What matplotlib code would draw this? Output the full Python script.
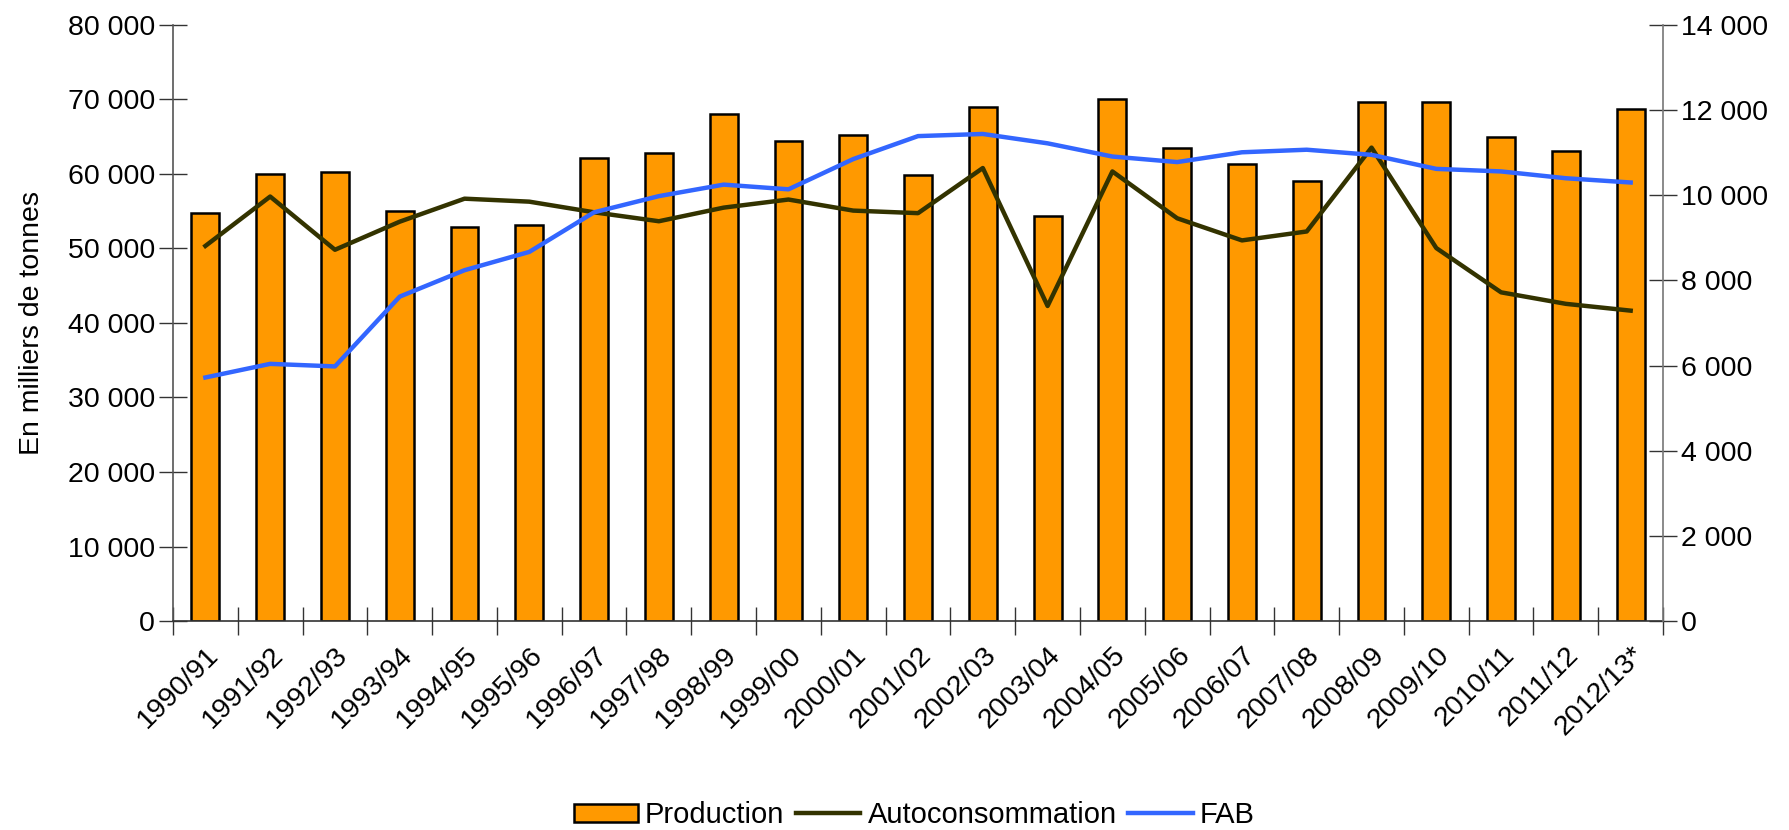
import matplotlib
matplotlib.use("Agg")
import matplotlib.pyplot as plt
from matplotlib.patches import Patch
from matplotlib.lines import Line2D
from matplotlib.ticker import FuncFormatter, MultipleLocator
import numpy as np

plt.rcParams['font.family'] = ['Liberation Sans', 'DejaVu Sans']

campagnes = ["1990/91", "1991/92", "1992/93", "1993/94", "1994/95", "1995/96",
             "1996/97", "1997/98", "1998/99", "1999/00", "2000/01", "2001/02",
             "2002/03", "2003/04", "2004/05", "2005/06", "2006/07", "2007/08",
             "2008/09", "2009/10", "2010/11", "2011/12", "2012/13*"]

production = [54700, 60000, 60300, 55000, 52900, 53200, 62200, 62800, 68000,
              64400, 65300, 59800, 69000, 54400, 70000, 63450, 61300, 59100,
              69700, 69700, 65000, 63100, 68700]

autoconsommation = [8810, 9970, 8720, 9380, 9920, 9850, 9600, 9390, 9710,
                    9900, 9640, 9580, 10640, 7400, 10560, 9460, 8940, 9150,
                    11120, 8760, 7720, 7450, 7290]

fab = [5720, 6040, 5980, 7620, 8240, 8670, 9600, 9980, 10250, 10140, 10850,
       11390, 11440, 11220, 10910, 10780, 11010, 11070, 10950, 10620, 10560,
       10400, 10300]

C_BAR = "#FF9900"
C_AUTO = "#333300"
C_FAB = "#3366FF"
FS = 20.5

def fmt(v, pos):
    return "{:,.0f}".format(v).replace(",", " ")

fig = plt.figure(figsize=(17.89, 8.30), dpi=100)
ax = fig.add_axes([0.0967, 0.2518, 0.8329, 0.7181])
ax2 = ax.twinx()

x = np.arange(len(campagnes))
ax.bar(x, production, width=0.43, color=C_BAR, edgecolor="black", linewidth=1.8, zorder=2)
ax2.plot(x, autoconsommation, color=C_AUTO, linewidth=3.2, zorder=3)
ax2.plot(x, fab, color=C_FAB, linewidth=3.2, zorder=3)

ax.set_xlim(-0.5, len(campagnes) - 0.5)
ax.set_ylim(0, 80000)
ax2.set_ylim(0, 14000)
ax.yaxis.set_major_locator(MultipleLocator(10000))
ax2.yaxis.set_major_locator(MultipleLocator(2000))
ax.yaxis.set_major_formatter(FuncFormatter(fmt))
ax2.yaxis.set_major_formatter(FuncFormatter(fmt))

ax.set_xticks(x)
ax.set_xticklabels(campagnes, rotation=45, ha="right", va="top", rotation_mode="anchor")
ax.set_xticks(np.arange(-0.5, len(campagnes)), minor=True)
ax.tick_params(axis="x", which="major", length=0, pad=15, labelsize=FS)
ax.tick_params(axis="x", which="minor", length=20, direction="inout", width=1, color="#333333")
ax.tick_params(axis="y", length=20, direction="inout", width=1, labelsize=FS, pad=3, color="#333333")
ax2.tick_params(axis="y", length=20, direction="inout", width=1, labelsize=FS, pad=3, color="#333333")

for a in (ax, ax2):
    a.spines["top"].set_visible(False)
ax.spines["right"].set_visible(False)
ax2.spines["left"].set_visible(False)
ax2.spines["bottom"].set_visible(False)
ax.spines["left"].set_color("#555555")
ax2.spines["right"].set_color("#777777")
ax.spines["bottom"].set_color("#333333")
for s in ("left", "bottom"):
    ax.spines[s].set_linewidth(1.2)
ax2.spines["right"].set_linewidth(1.2)

ax.set_ylabel("En milliers de tonnes", fontsize=FS, labelpad=16)

handles = [Patch(facecolor=C_BAR, edgecolor="black", linewidth=1.8),
           Line2D([0], [0], color=C_AUTO, linewidth=3.2),
           Line2D([0], [0], color=C_FAB, linewidth=3.2)]
fig.legend(handles, ["Production", "Autoconsommation", "FAB"], loc="center",
           bbox_to_anchor=(0.511, 0.018), ncol=3, frameon=False, fontsize=21,
           handlelength=2.2, handletextpad=0.25, columnspacing=0.4, handleheight=0.6)

fig.savefig("out.png", dpi=100)
